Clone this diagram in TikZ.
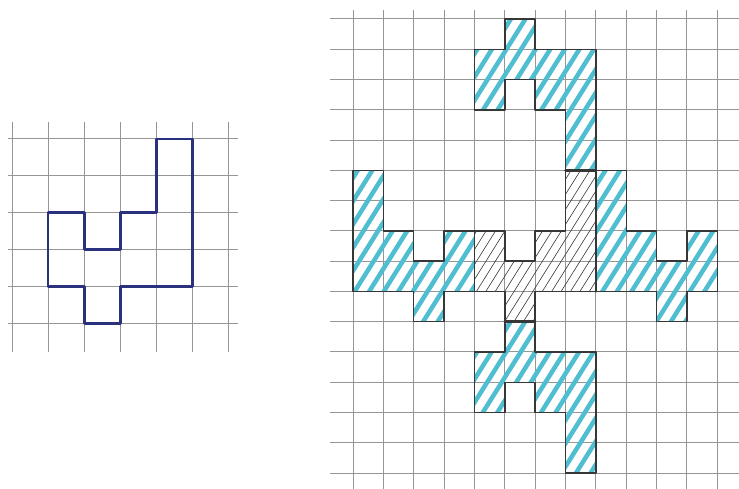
\documentclass[tikz,border=0pt]{standalone}
\definecolor{gridgray}{RGB}{150,150,150}
\definecolor{pen}{RGB}{42,50,125}
\definecolor{markercol}{RGB}{78,190,208}
\definecolor{ink}{RGB}{55,55,55}
\newcommand\drawshape[4]{%
  \begin{scope}
    \clip #1;
    \foreach \k in {-40,...,45} \draw[#2] ({\k*#3},16) -- ({\k*#3+16/1.6},0);
  \end{scope}
  \draw[#4] #1;}
\begin{document}
\begin{tikzpicture}[x=1pt,y=-1pt,
  gridline/.style={draw=gridgray, line width=1.0pt},
  penline/.style={draw=pen, line width=2.6pt, line join=round, line cap=round},
  inkline/.style={draw=ink, line width=1.4pt, line join=round, line cap=round},
  markstroke/.style={draw=markercol, line width=4.5pt, line cap=round},
  pencil/.style={draw=ink, line width=0.6pt}]
\useasboundingbox (0,0) rectangle (739,489);
\fill[white] (0,0) rectangle (739,489);

% ---------- left grid with the pen figure ----------
\begin{scope}[shift={(12pt,-139pt)}, x=36.1pt, y=-36.9pt]
  \foreach \i in {0,...,6} \draw[gridline] (\i,-0.46) -- (\i,5.77);
  \foreach \j in {0,...,5} \draw[gridline] (-0.11,\j) -- (6.26,\j);
  \draw[penline] (4,0)--(5,0)--(5,4)--(3,4)--(3,5)--(2,5)--(2,4)--(1,4)--(1,2)--(2,2)--(2,3)--(3,3)--(3,2)--(4,2)--cycle;
\end{scope}

% ---------- right grid ----------
\begin{scope}[shift={(353pt,-19pt)}, x=30.36pt, y=-30.27pt]
  \foreach \i in {0,...,12} \draw[gridline] (\i,-0.3) -- (\i,15.6);
  \foreach \j in {0,...,15} \draw[gridline] (-0.76,\j) -- (12.8,\j);

  % top piece
  \drawshape{(5,0)--(6,0)--(6,1)--(8,1)--(8,5)--(7,5)--(7,3)--(6,3)--(6,2)--(5,2)--(5,3)--(4,3)--(4,1)--(5,1)--cycle}{markstroke}{0.48}{inkline}
  % left piece
  \drawshape{(0,5)--(1,5)--(1,7)--(2,7)--(2,8)--(3,8)--(3,7)--(4,7)--(4,9)--(3,9)--(3,10)--(2,10)--(2,9)--(0,9)--cycle}{markstroke}{0.48}{inkline}
  % right piece
  \drawshape{(8,5)--(9,5)--(9,7)--(10,7)--(10,8)--(11,8)--(11,7)--(12,7)--(12,9)--(11,9)--(11,10)--(10,10)--(10,9)--(8,9)--cycle}{markstroke}{0.48}{inkline}
  % bottom piece
  \drawshape{(5,10)--(6,10)--(6,11)--(8,11)--(8,15)--(7,15)--(7,13)--(6,13)--(6,12)--(5,12)--(5,13)--(4,13)--(4,11)--(5,11)--cycle}{markstroke}{0.48}{inkline}
  % centre piece (pencil hatching)
  \drawshape{(7,5)--(8,5)--(8,9)--(6,9)--(6,10)--(5,10)--(5,9)--(4,9)--(4,7)--(5,7)--(5,8)--(6,8)--(6,7)--(7,7)--cycle}{pencil}{0.31}{inkline}
  \draw[inkline, line width=2.6pt] (7,5)--(8,5)--(8,9);
  \draw[inkline, line width=2.6pt] (5,10)--(6,10);
\end{scope}
\end{tikzpicture}
\end{document}
